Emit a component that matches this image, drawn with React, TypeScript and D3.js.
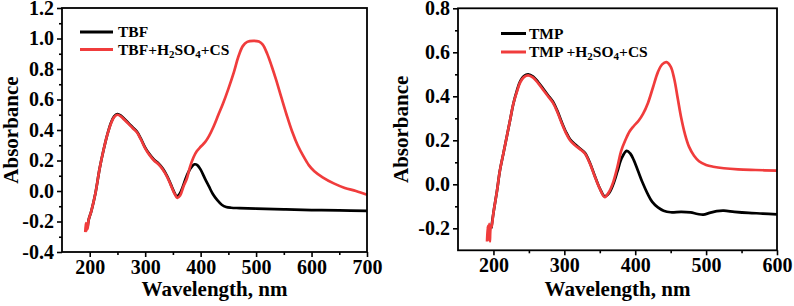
import React, { useRef, useEffect } from 'react';
import * as d3 from 'd3';

// [wavelength nm, absorbance]
const tbf: [number, number][] = [
  [196, -0.24], [198, -0.19], [203, -0.13], [210, -0.02], [218, 0.15], [225, 0.27], [231, 0.36], [238, 0.445],
  [244, 0.49], [250, 0.505], [256, 0.495], [263, 0.47], [270, 0.445], [278, 0.415], [285, 0.39], [292, 0.345],
  [300, 0.285], [308, 0.24], [316, 0.205], [324, 0.18], [332, 0.145], [340, 0.095], [346, 0.045], [352, -0.005],
  [357, -0.035], [362, -0.02], [368, 0.03], [375, 0.1], [382, 0.15], [389, 0.175], [394, 0.17], [400, 0.14],
  [408, 0.08], [415, 0.03], [422, -0.02], [430, -0.06], [438, -0.09], [446, -0.105], [455, -0.11], [470, -0.112],
  [500, -0.115], [550, -0.12], [600, -0.125], [650, -0.127], [700, -0.13],
];
const tbfAcid: [number, number][] = [
  [192, -0.27], [193, -0.21], [194, -0.26], [195, -0.22], [196, -0.25], [198, -0.19], [203, -0.13], [210, -0.02],
  [218, 0.15], [225, 0.27], [231, 0.36], [238, 0.44], [244, 0.485], [250, 0.5], [256, 0.49], [263, 0.465],
  [270, 0.44], [278, 0.41], [285, 0.385], [292, 0.34], [300, 0.28], [308, 0.235], [316, 0.2], [324, 0.175],
  [332, 0.14], [340, 0.09], [346, 0.04], [352, -0.01], [358, -0.045], [363, -0.03], [369, 0.03], [375, 0.08],
  [381, 0.16], [387, 0.22], [393, 0.26], [400, 0.29], [408, 0.32], [415, 0.36], [423, 0.42], [432, 0.5],
  [440, 0.57], [450, 0.67], [460, 0.78], [468, 0.88], [476, 0.95], [484, 0.978], [495, 0.985], [505, 0.98],
  [512, 0.96], [520, 0.9], [528, 0.82], [536, 0.73], [545, 0.62], [555, 0.5], [565, 0.39], [575, 0.3],
  [585, 0.23], [595, 0.17], [605, 0.13], [620, 0.09], [640, 0.05], [660, 0.02], [680, 0.0], [700, -0.025],
];
const tmp: [number, number][] = [
  [197, -0.2], [200, -0.13], [205, -0.03], [209, 0.06], [214, 0.14], [219, 0.22], [224, 0.3], [228, 0.365],
  [233, 0.425], [238, 0.47], [243, 0.492], [249, 0.5], [256, 0.49], [263, 0.465], [270, 0.435], [277, 0.405],
  [284, 0.375], [290, 0.335], [296, 0.285], [302, 0.24], [308, 0.205], [315, 0.182], [322, 0.163], [329, 0.143],
  [336, 0.098], [343, 0.038], [350, -0.018], [357, -0.055], [363, -0.04], [369, 0.0], [375, 0.06], [381, 0.12],
  [388, 0.152], [393, 0.14], [398, 0.11], [404, 0.06], [410, 0.01], [417, -0.04], [424, -0.08], [432, -0.105],
  [440, -0.12], [450, -0.127], [465, -0.125], [478, -0.128], [488, -0.135], [496, -0.138], [505, -0.13],
  [515, -0.122], [525, -0.12], [540, -0.125], [560, -0.13], [580, -0.133], [600, -0.137],
];
const tmpAcid: [number, number][] = [
  [191, -0.26], [192, -0.19], [193, -0.25], [194, -0.18], [195, -0.26], [196, -0.2], [197.5, -0.19], [200, -0.13],
  [205, -0.03], [209, 0.06], [214, 0.14], [219, 0.22], [224, 0.3], [228, 0.365], [233, 0.42], [238, 0.465],
  [243, 0.487], [249, 0.495], [256, 0.485], [263, 0.46], [270, 0.43], [277, 0.4], [284, 0.37], [290, 0.33],
  [296, 0.28], [302, 0.235], [308, 0.2], [315, 0.178], [322, 0.16], [329, 0.14], [336, 0.095], [343, 0.035],
  [350, -0.02], [357, -0.058], [363, -0.035], [369, 0.01], [375, 0.08], [380, 0.15], [386, 0.2], [392, 0.24],
  [398, 0.265], [405, 0.29], [411, 0.32], [418, 0.37], [425, 0.44], [432, 0.51], [438, 0.545], [444, 0.555],
  [450, 0.535], [455, 0.48], [460, 0.39], [465, 0.3], [470, 0.23], [476, 0.17], [483, 0.13], [490, 0.105],
  [500, 0.088], [510, 0.08], [525, 0.073], [545, 0.068], [570, 0.065], [600, 0.062],
];

const leftTicksX = [200, 300, 400, 500, 600, 700];
const leftTicksY = [-0.4, -0.2, 0.0, 0.2, 0.4, 0.6, 0.8, 1.0, 1.2];
const rightTicksX = [200, 300, 400, 500, 600];
const rightTicksY = [-0.2, 0.0, 0.2, 0.4, 0.6, 0.8];

const RED = '#f03c3c';
const FONT = '"Liberation Serif", "Times New Roman", serif';

const panels = [
  {
    xDom: [150, 700], xRange: [62, 367], yDom: [-0.4, 1.2], yRange: [252, 8],
    xTicks: leftTicksX, yTicks: leftTicksY,
    xMinor: [250, 350, 450, 550, 650], yMinor: [-0.3, -0.1, 0.1, 0.3, 0.5, 0.7, 0.9, 1.1],
    series: [tbf, tbfAcid], names: ['TBF', 'TBF+'],
    yTitleX: 18,
    legend: { x1: 80, x2: 113, tx: 118, y1: 32, y2: 49.5 },
  },
  {
    xDom: [150, 600], xRange: [458, 777], yDom: [-0.3, 0.8], yRange: [250.3, 8.3],
    xTicks: rightTicksX, yTicks: rightTicksY,
    xMinor: [250, 350, 450, 550], yMinor: [-0.1, 0.1, 0.3, 0.5, 0.7],
    series: [tmp, tmpAcid], names: ['TMP', 'TMP +'],
    yTitleX: 408,
    legend: { x1: 501, x2: 526, tx: 529, y1: 33.5, y2: 52 },
  },
];

const App = () => {
  const svgRef = useRef<SVGSVGElement>(null);

  useEffect(() => {
    const svg = d3.select(svgRef.current);
    svg.selectAll('*').remove();

    panels.forEach((p) => {
      const x = d3.scaleLinear().domain(p.xDom).range(p.xRange);
      const y = d3.scaleLinear().domain(p.yDom).range(p.yRange);
      const g = svg.append('g');

      const line = d3.line<[number, number]>()
        .x(d => x(d[0]))
        .y(d => y(d[1]))
        .curve(d3.curveCatmullRom.alpha(0.5));

      // black first, red on top
      p.series.forEach((s, i) => {
        g.append('path')
          .attr('d', line(s))
          .attr('fill', 'none')
          .attr('stroke', i === 0 ? '#000' : RED)
          .attr('stroke-width', 2.7)
          .attr('stroke-linejoin', 'round');
      });

      // frame
      g.append('rect')
        .attr('x', p.xRange[0]).attr('y', p.yRange[1])
        .attr('width', p.xRange[1] - p.xRange[0])
        .attr('height', p.yRange[0] - p.yRange[1])
        .attr('fill', 'none').attr('stroke', '#000').attr('stroke-width', 1.8);

      const styleAxis = (sel: any) => {
        sel.select('.domain').remove();
        sel.selectAll('line').attr('stroke', '#000').attr('stroke-width', 1.6);
        sel.selectAll('text')
          .attr('font-family', FONT).attr('font-weight', 'bold')
          .attr('font-size', 20).attr('fill', '#000');
      };

      g.append('g')
        .attr('transform', `translate(0,${p.yRange[0]})`)
        .call(d3.axisBottom(x).tickValues(p.xTicks).tickSize(5).tickPadding(3).tickFormat(d3.format('d')))
        .call(styleAxis);
      g.append('g')
        .attr('transform', `translate(0,${p.yRange[0]})`)
        .call(d3.axisBottom(x).tickValues(p.xMinor).tickSize(3).tickFormat(() => ''))
        .call(styleAxis);
      g.append('g')
        .attr('transform', `translate(${p.xRange[0]},0)`)
        .call(d3.axisLeft(y).tickValues(p.yTicks).tickSize(5).tickPadding(3).tickFormat(d => (+d).toFixed(1)))
        .call(styleAxis);
      g.append('g')
        .attr('transform', `translate(${p.xRange[0]},0)`)
        .call(d3.axisLeft(y).tickValues(p.yMinor).tickSize(3).tickFormat(() => ''))
        .call(styleAxis);

      // axis titles
      g.append('text')
        .attr('x', (p.xRange[0] + p.xRange[1]) / 2).attr('y', 296)
        .attr('text-anchor', 'middle')
        .attr('font-family', FONT).attr('font-weight', 'bold').attr('font-size', 21)
        .text('Wavelength, nm');
      g.append('text')
        .attr('transform', `translate(${p.yTitleX},${(p.yRange[0] + p.yRange[1]) / 2}) rotate(-90)`)
        .attr('text-anchor', 'middle')
        .attr('font-family', FONT).attr('font-weight', 'bold').attr('font-size', 21)
        .text('Absorbance');

      // legend
      const L = p.legend;
      [L.y1, L.y2].forEach((ly, i) => {
        g.append('line')
          .attr('x1', L.x1).attr('x2', L.x2).attr('y1', ly).attr('y2', ly)
          .attr('stroke', i === 0 ? '#000' : RED).attr('stroke-width', 3);
        const t = g.append('text')
          .attr('x', L.tx).attr('y', ly + 5)
          .attr('font-family', FONT).attr('font-weight', 'bold').attr('font-size', 15.5);
        if (i === 0) {
          t.text(p.names[0]);
        } else {
          t.append('tspan').text(p.names[1] + 'H');
          t.append('tspan').attr('font-size', 11).attr('dy', 3).text('2');
          t.append('tspan').attr('dy', -3).text('SO');
          t.append('tspan').attr('font-size', 11).attr('dy', 3).text('4');
          t.append('tspan').attr('dy', -3).text('+CS');
        }
      });
    });
  }, []);

  return (
    <svg
      ref={svgRef}
      width={794}
      height={306}
      style={{ position: 'absolute', left: 0, top: 0, background: '#fff' }}
    />
  );
};

export default App;
